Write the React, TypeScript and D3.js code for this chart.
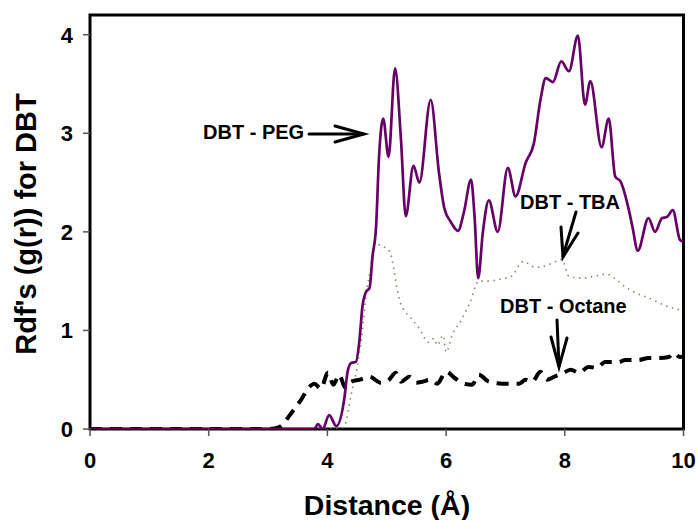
import React from "react";
import * as d3 from "d3";

const pegX = [0, 3.7, 3.78, 3.84, 3.92, 4.03, 4.15, 4.29, 4.34, 4.4, 4.48, 4.54, 4.59, 4.65, 4.71, 4.76, 4.82, 4.87, 4.94, 5.03, 5.14, 5.24, 5.32, 5.45, 5.55, 5.74, 5.88, 5.97, 6.08, 6.2, 6.3, 6.42, 6.48, 6.54, 6.62, 6.72, 6.87, 7.04, 7.17, 7.34, 7.48, 7.59, 7.68, 7.8, 7.94, 8.07, 8.22, 8.34, 8.43, 8.62, 8.74, 8.85, 8.94, 9.08, 9.14, 9.23, 9.41, 9.52, 9.64, 9.72, 9.82, 9.94, 10];
const pegY = [0, 0, 0, 0.05, 0, 0.14, 0.03, 0.33, 0.58, 0.67, 0.68, 0.9, 1.24, 1.39, 1.43, 1.75, 2.05, 2.76, 3.15, 2.76, 3.66, 2.93, 2.16, 2.67, 2.5, 3.34, 2.6, 2.24, 2.1, 2.01, 2.2, 2.53, 2.15, 1.53, 2.0, 2.32, 2.0, 2.65, 2.36, 2.7, 2.9, 3.34, 3.56, 3.52, 3.73, 3.63, 3.99, 3.29, 3.53, 2.86, 3.15, 2.56, 2.51, 2.22, 2.05, 1.81, 2.14, 2.0, 2.14, 2.15, 2.22, 1.92, 1.9];

const tbaX = [0, 4.2, 4.3, 4.4, 4.5, 4.6, 4.66, 4.72, 4.8, 4.9, 5.05, 5.12, 5.18, 5.23, 5.4, 5.55, 5.7, 5.8, 5.85, 5.95, 6.0, 6.1, 6.25, 6.4, 6.55, 6.7, 6.9, 7.1, 7.3, 7.5, 7.7, 7.85, 7.95, 8.07, 8.3, 8.5, 8.7, 8.9, 9.0, 9.2, 9.45, 9.7, 10];
const tbaY = [0, 0, 0.05, 0.35, 0.62, 1.05, 1.4, 1.6, 1.88, 1.86, 1.8, 1.62, 1.4, 1.28, 1.13, 1.02, 0.88, 0.92, 0.85, 0.95, 0.78, 0.95, 1.1, 1.28, 1.5, 1.5, 1.52, 1.55, 1.7, 1.64, 1.66, 1.7, 1.72, 1.55, 1.53, 1.55, 1.57, 1.5, 1.45, 1.38, 1.32, 1.25, 1.2];

const octX = [0, 3.0, 3.19, 3.39, 3.55, 3.7, 3.78, 3.89, 4.01, 4.1, 4.2, 4.3, 4.4, 4.54, 4.71, 4.9, 5.04, 5.15, 5.24, 5.38, 5.5, 5.6, 5.74, 5.85, 6.0, 6.16, 6.3, 6.44, 6.55, 6.72, 6.95, 7.23, 7.34, 7.45, 7.59, 7.7, 7.82, 7.95, 8.1, 8.24, 8.4, 8.54, 8.68, 8.91, 9.02, 9.24, 9.41, 9.6, 9.75, 9.83, 9.94, 10];
const octY = [0, 0, 0.02, 0.16, 0.29, 0.43, 0.46, 0.41, 0.57, 0.45, 0.55, 0.42, 0.48, 0.5, 0.53, 0.47, 0.5, 0.57, 0.48, 0.53, 0.47, 0.48, 0.5, 0.46, 0.58, 0.51, 0.46, 0.45, 0.55, 0.48, 0.46, 0.46, 0.5, 0.48, 0.58, 0.5, 0.53, 0.56, 0.6, 0.57, 0.63, 0.62, 0.68, 0.68, 0.7, 0.7, 0.72, 0.72, 0.73, 0.77, 0.73, 0.74];

const xTicks = [0, 2, 4, 6, 8, 10];
const yTicks = [0, 1, 2, 3, 4];

const annotations = [
  { label: "DBT - PEG", tx: 203, ty: 139 },
  { label: "DBT - TBA", tx: 520, ty: 209 },
  { label: "DBT - Octane", tx: 500, ty: 313 },
];

export default function App() {
  const W = 698, H = 520;
  const left = 90, right = 683.5, top = 15, bottom = 429;
  const x = d3.scaleLinear().domain([0, 10]).range([left, right]);
  const y = d3.scaleLinear().domain([0, 4.2]).range([bottom, top]);
  const line = (xs: number[], ys: number[]) =>
    d3.line<number>().x((d) => x(xs[d])).y((d) => y(ys[d])).curve(d3.curveMonotoneX)(xs.map((_, i) => i)) || "";
  const font = "Arial, 'Liberation Sans', sans-serif";
  return (
    <svg width={W} height={H} style={{ position: "absolute", left: 0, top: 0, background: "#fff" }}>
      <defs>
        <clipPath id="plot">
          <rect x={left} y={top - 2} width={right - left} height={bottom - top + 2} />
        </clipPath>
      </defs>
      <rect x={left} y={top} width={right - left} height={bottom - top} fill="none" stroke="#000" strokeWidth={3} />
      {yTicks.map((t) => (
        <g key={"y" + t}>
          <line x1={left - 7} x2={left} y1={y(t)} y2={y(t)} stroke="#555" strokeWidth={1.5} />
          <text x={73} y={y(t)} dy="0.36em" textAnchor="end" fontFamily={font} fontWeight="bold" fontSize={22}>{t}</text>
        </g>
      ))}
      {xTicks.map((t) => (
        <g key={"x" + t}>
          <line x1={x(t)} x2={x(t)} y1={bottom} y2={bottom + 7} stroke="#555" strokeWidth={1.5} />
          <text x={x(t)} y={468} textAnchor="middle" fontFamily={font} fontWeight="bold" fontSize={22}>{t}</text>
        </g>
      ))}
      <g clipPath="url(#plot)">
        <path d={line(tbaX, tbaY)} fill="none" stroke="#8a8468" strokeWidth={1.6} strokeDasharray="1.5,4.5" />
        <path d={line(octX, octY)} fill="none" stroke="#000" strokeWidth={4} strokeDasharray="12,8" />
        <path d={line(pegX, pegY)} fill="none" stroke="#660066" strokeWidth={2.7} />
      </g>
      {annotations.map((a) => (
        <text key={a.label} x={a.tx} y={a.ty} fontFamily={font} fontWeight="bold" fontSize={20}>{a.label}</text>
      ))}
      <g stroke="#000" strokeWidth={3} fill="none" strokeLinecap="round">
        <line x1={309} y1={134} x2={363} y2={134} />
        <polyline points="335,126 364,134 335,142" />
        <line x1={576} y1={212} x2={563} y2={256} />
        <polyline points="561,227 563,257 578,233" />
        <line x1={557} y1={320} x2={559} y2={366} />
        <polyline points="551,337 559,367 567,338" />
      </g>
      <text x={387} y={515} textAnchor="middle" fontFamily={font} fontWeight="bold" fontSize={28.5}>Distance (Å)</text>
      <text transform="translate(36,224) rotate(-90)" textAnchor="middle" fontFamily={font} fontWeight="bold" fontSize={29}>Rdf's (g(r)) for DBT</text>
    </svg>
  );
}
